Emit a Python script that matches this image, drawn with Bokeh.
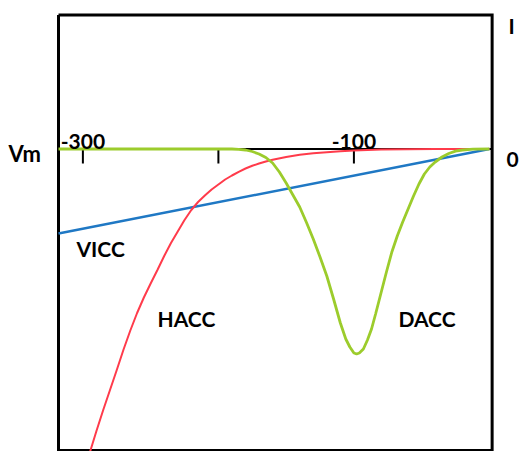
from bokeh.plotting import figure
from bokeh.models import Label
from bokeh.embed import file_html
from bokeh.resources import INLINE

# ---- data (membrane potential Vm in mV, current I in arbitrary units) ----
VICC_V = [-318, 0]
VICC_I = [-0.845, 0.0]

HACC_V = [-300, -295, -290, -285, -280, -275, -270, -265, -260, -255, -250,
          -245, -240, -235, -230, -225, -220, -215, -210, -205, -200, -195,
          -190, -185, -180, -175, -170, -165, -160, -150, -140, -130, -120,
          -110, -100, -90, -80, -60, -40, 0]
HACC_I = [-3.27, -3.04, -2.82, -2.61, -2.41, -2.21, -2.005, -1.815, -1.64,
          -1.485, -1.345, -1.21, -1.07, -0.94, -0.825, -0.71, -0.61, -0.53,
          -0.465, -0.405, -0.355, -0.305, -0.265, -0.228, -0.195, -0.168,
          -0.145, -0.125, -0.108, -0.08, -0.057, -0.042, -0.032, -0.023,
          -0.016, -0.010, -0.006, -0.002, 0.0, 0.0]

DACC_V = [-318, -190, -185, -180, -175, -170, -165, -160, -155, -150, -145,
          -140, -135, -130, -125, -120, -115, -110, -106, -103, -100, -98,
          -96, -93, -90, -87, -84, -80, -76, -72, -68, -64, -60, -56, -52,
          -48, -44, -40, -35, -30, -25, -20, -12, 0]
DACC_I = [0.0, 0.0, -0.003, -0.01, -0.025, -0.05, -0.085, -0.14, -0.23, -0.34,
          -0.46, -0.58, -0.735, -0.90, -1.08, -1.27, -1.50, -1.74, -1.90,
          -1.98, -2.04, -2.05, -2.04, -2.0, -1.91, -1.80, -1.65, -1.44, -1.23,
          -1.03, -0.87, -0.73, -0.60, -0.47, -0.35, -0.25, -0.18, -0.13,
          -0.08, -0.045, -0.022, -0.01, -0.002, 0.0]

# plot box limits (data units)
V_MIN, V_MAX = -318, 2
I_MIN, I_MAX = -3.015, 1.34

TICK_V = [-300, -200, -100]
TICK_LABEL_V = [-300, -100]
TICK_LABELS = ["-300", "-100"]

FONT = "Lato"

p = figure(width=519, height=451, x_range=(-360.8, 22.2), y_range=(-3.025, 1.485),
           toolbar_location=None, output_backend="svg",
           x_axis_location=None, y_axis_location=None, min_border=0)
p.grid.visible = False
p.outline_line_color = None
p.background_fill_color = "white"
p.border_fill_color = "white"

# box
p.line([V_MIN, V_MAX, V_MAX, V_MIN, V_MIN], [I_MAX, I_MAX, I_MIN, I_MIN, I_MAX],
       line_color="black", line_width=3, line_join="miter")

# zero (voltage) axis and ticks
p.line([V_MIN, V_MAX], [0, 0], line_color="black", line_width=2)
p.segment(x0=TICK_V, y0=[0] * len(TICK_V), x1=TICK_V, y1=[-0.145] * len(TICK_V),
          line_color="black", line_width=2)

# curves
p.line(VICC_V, VICC_I, line_color="#1f78c4", line_width=2.5)
p.line(HACC_V, HACC_I, line_color="#ff3b4b", line_width=2)
p.line(DACC_V, DACC_I, line_color="#9ccc2c", line_width=2.8)

def lab(x, y, t, size="21px", align="left"):
    p.add_layout(Label(x=x, y=y, text=t, text_font=FONT, text_font_style="bold",
                       text_font_size=size, text_align=align,
                       text_baseline="alphabetic", text_color="black"))

for v, t in zip(TICK_LABEL_V, TICK_LABELS):
    lab(v, 0.08, t, align="center")

lab(-354.9, -0.045, "Vm", size="22px")
lab(12.6, -0.105, "0")
lab(14.0, 1.235, "I")
lab(-304.7, -0.995, "VICC")
lab(-244.9, -1.695, "HACC")
lab(-67.1, -1.695, "DACC")

open("out.html", "w").write(file_html(p, INLINE))
